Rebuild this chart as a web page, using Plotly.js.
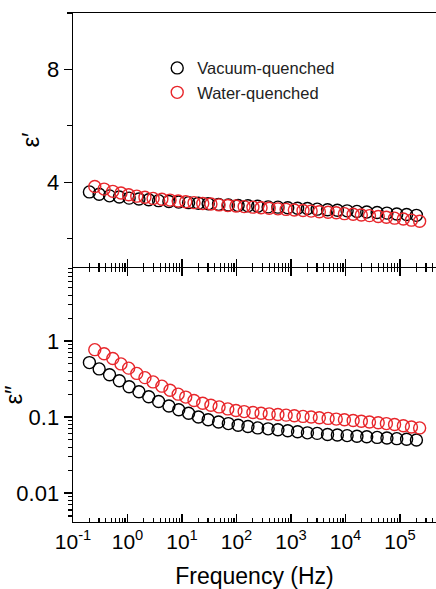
<!DOCTYPE html>
<html><head><meta charset="utf-8">
<script src="https://cdn.plot.ly/plotly-3.0.1.min.js"></script>
<style>html,body{margin:0;padding:0;background:#fff}</style>
</head><body>
<div id="chart" style="width:436px;height:589px"></div>
<script>
// Frequencies (Hz)
const freqVacuum = [0.2, 0.302, 0.468, 0.708, 1.07, 1.62, 2.45, 3.72, 5.75, 8.71,
  13.2, 20.0, 30.2, 46.8, 70.8, 107, 162, 245, 380, 575,
  871, 1320, 2000, 3020, 4680, 7080, 10700, 16200, 24500, 38000,
  57500, 87100, 132000, 200000];
const freqWater = [0.251, 0.372, 0.537, 0.759, 1.05, 1.48, 2.09, 2.95, 4.27, 6.03,
  8.51, 11.7, 16.6, 24.0, 33.9, 47.9, 69.2, 97.7, 138, 200,
  282, 398, 575, 813, 1150, 1660, 2340, 3310, 4790, 6760,
  9550, 13800, 19500, 27500, 39800, 56200, 79400, 115000, 162000, 229000];

// Real permittivity ε′
const epsRealVacuum = [3.66, 3.58, 3.52, 3.48, 3.44, 3.41, 3.38, 3.35, 3.32, 3.30,
  3.28, 3.26, 3.24, 3.22, 3.20, 3.18, 3.17, 3.15, 3.13, 3.12,
  3.10, 3.08, 3.07, 3.05, 3.03, 3.01, 2.99, 2.97, 2.95, 2.93,
  2.91, 2.88, 2.86, 2.83];
const epsRealWater = [3.85, 3.76, 3.68, 3.62, 3.56, 3.51, 3.47, 3.43, 3.40, 3.37,
  3.34, 3.31, 3.28, 3.25, 3.23, 3.20, 3.18, 3.16, 3.14, 3.12,
  3.10, 3.08, 3.06, 3.04, 3.02, 3.00, 2.98, 2.96, 2.94, 2.92,
  2.89, 2.87, 2.84, 2.82, 2.79, 2.76, 2.73, 2.70, 2.66, 2.62];

// Imaginary permittivity ε″
const epsImagVacuum = [0.52, 0.43, 0.36, 0.30, 0.25, 0.215, 0.185, 0.16, 0.14, 0.125,
  0.112, 0.100, 0.092, 0.086, 0.082, 0.078, 0.075, 0.072, 0.070, 0.068,
  0.066, 0.064, 0.062, 0.061, 0.059, 0.058, 0.057, 0.056, 0.055, 0.054,
  0.053, 0.052, 0.051, 0.050];
const epsImagWater = [0.77, 0.68, 0.59, 0.50, 0.44, 0.375, 0.33, 0.29, 0.255, 0.225,
  0.20, 0.183, 0.165, 0.152, 0.143, 0.136, 0.128, 0.122, 0.118, 0.115,
  0.112, 0.110, 0.108, 0.106, 0.104, 0.102, 0.100, 0.098, 0.096, 0.094,
  0.092, 0.090, 0.088, 0.086, 0.084, 0.082, 0.080, 0.077, 0.074, 0.072];

const seriesNames = ['Vacuum-quenched', 'Water-quenched'];
const freqTickVals = [0.1, 1, 10, 100, 1000, 10000, 100000];
const freqTickText = ['10<sup>-1</sup>', '10<sup>0</sup>', '10<sup>1</sup>', '10<sup>2</sup>',
  '10<sup>3</sup>', '10<sup>4</sup>', '10<sup>5</sup>'];
const imagTickVals = [0.01, 0.1, 1];
const imagTickText = ['0.01', '0.1', '1'];
const realTickVals = [4, 8];
const realTickText = ['4', '8'];

// minor log tick positions (2..9 within each decade) — axis styling only
function logMinor(lo, hi) {
  const out = [];
  for (let e = lo; e <= hi; e++) for (let k = 2; k <= 9; k++) out.push(k * Math.pow(10, e));
  return out;
}

const FONT = 'Arial, "Liberation Sans", sans-serif';
const BLACK = '#000000';
const RED = '#e8262b';

function mk(color) {
  return {symbol: 'circle-open', size: 12, color: color, line: {color: color, width: 1.4}};
}

const traces = [
  {x: freqVacuum, y: epsRealVacuum, xaxis: 'x2', yaxis: 'y2', mode: 'markers',
   name: seriesNames[0], marker: mk(BLACK)},
  {x: freqWater, y: epsRealWater, xaxis: 'x2', yaxis: 'y2', mode: 'markers',
   name: seriesNames[1], marker: mk(RED)},
  {x: freqVacuum, y: epsImagVacuum, xaxis: 'x', yaxis: 'y', mode: 'markers',
   name: seriesNames[0], marker: mk(BLACK), showlegend: false},
  {x: freqWater, y: epsImagWater, xaxis: 'x', yaxis: 'y', mode: 'markers',
   name: seriesNames[1], marker: mk(RED), showlegend: false}
];

const axisCommon = {
  showline: true, linecolor: BLACK, linewidth: 1.4,
  tickcolor: BLACK, tickwidth: 1.4, showgrid: false, zeroline: false,
  tickfont: {family: FONT, size: 22, color: BLACK}
};
const xMinor = {tickmode: 'array', tickvals: logMinor(-1, 5), ticks: 'inside', ticklen: 4,
  tickwidth: 1.1, tickcolor: BLACK, showgrid: false};

const layout = {
  width: 436, height: 589,
  margin: {l: 73, r: 0, t: 13, b: 67},
  paper_bgcolor: '#fff', plot_bgcolor: '#fff',
  font: {family: FONT, color: BLACK},
  showlegend: true,
  legend: {x: 0.232, y: 0.926, xanchor: 'left', yanchor: 'top', traceorder: 'normal',
    bgcolor: 'rgba(0,0,0,0)', borderwidth: 0, tracegroupgap: 0,
    font: {family: FONT, size: 16.5, color: '#222'}},
  xaxis: Object.assign({}, axisCommon, {
    type: 'log', range: [-1, 5.66], domain: [0, 1], anchor: 'y',
    mirror: 'ticks', ticks: 'inside', ticklen: 8,
    tickmode: 'array', tickvals: freqTickVals, ticktext: freqTickText,
    tickfont: {family: FONT, size: 21, color: BLACK},
    minor: xMinor,
    title: {text: 'Frequency (Hz)', font: {family: FONT, size: 23, color: BLACK}, standoff: 18}
  }),
  xaxis2: Object.assign({}, axisCommon, {
    type: 'log', range: [-1, 5.66], domain: [0, 1], anchor: 'y2', matches: 'x',
    mirror: true, ticks: 'inside', ticklen: 8, showticklabels: false,
    tickmode: 'array', tickvals: freqTickVals,
    minor: xMinor
  }),
  yaxis: Object.assign({}, axisCommon, {
    type: 'log', domain: [0, 0.499], range: [-2.38, 0.96], anchor: 'x',
    tickmode: 'array', tickvals: imagTickVals, ticktext: imagTickText,
    ticks: 'outside', ticklen: 8,
    minor: {tickmode: 'array', tickvals: logMinor(-3, 0),
      ticks: 'outside', ticklen: 4, tickwidth: 1.1, tickcolor: BLACK, showgrid: false},
    title: {text: 'ε″', font: {family: FONT, size: 24, color: BLACK}, standoff: 0}
  }),
  yaxis2: Object.assign({}, axisCommon, {
    domain: [0.501, 1], range: [1, 10], anchor: 'x2',
    tickmode: 'array', tickvals: realTickVals, ticktext: realTickText,
    ticks: 'outside', ticklen: 8,
    minor: {tickmode: 'array', tickvals: [2, 6, 10], ticks: 'outside', ticklen: 5,
      tickwidth: 1.1, tickcolor: BLACK, showgrid: false},
    title: {text: 'ε′', font: {family: FONT, size: 24, color: BLACK}, standoff: 0}
  })
};

Plotly.newPlot('chart', traces, layout, {staticPlot: true, displayModeBar: false});
</script>
</body></html>
